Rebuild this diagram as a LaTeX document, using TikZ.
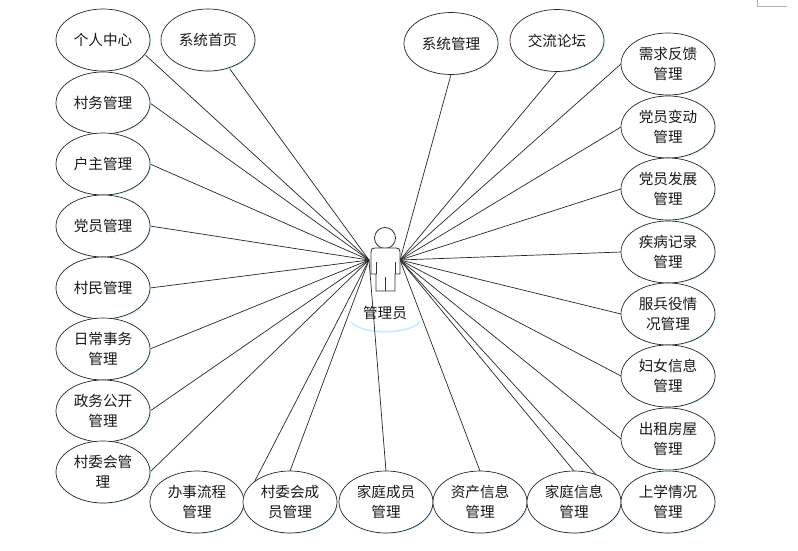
\documentclass[tikz,border=0pt]{standalone}
\usepackage{fontspec}
\setmainfont{Noto Sans CJK SC}
\usetikzlibrary{shapes.geometric,backgrounds,shadows}
\tikzset{
  uc/.style={ellipse,draw=black!85,line width=0.7pt,fill=white,minimum width=94pt,minimum height=62pt,inner sep=0pt,outer sep=0pt,align=center,font=\fontsize{14.6}{20}\selectfont,text=black!90,drop shadow={shadow xshift=0.9pt,shadow yshift=-0.9pt,fill=blue!30!cyan!18!white,opacity=1}},
  link/.style={draw=black!85,line width=0.7pt},
  actorline/.style={draw=black!80,line width=0.8pt,line join=round}
}
\begin{document}
\begin{tikzpicture}[x=1pt,y=-1pt]
\useasboundingbox (0,0) rectangle (798,551);
\draw[black!30,line width=0.7pt] (757,0) -- (757,6) -- (787,6);
% left
\node[uc] (grzx) at (103,40) {个人中心};
\node[uc] (xtsy) at (208,40) {系统首页};
\node[uc] (cwgl) at (103,103) {村务管理};
\node[uc] (hzgl) at (103,164) {户主管理};
\node[uc] (dygl) at (103,226) {党员管理};
\node[uc] (cmgl) at (103,288) {村民管理};
\node[uc] (rcsw) at (103,349) {日常事务\\管理};
\node[uc] (zwgk) at (103,411) {政务公开\\管理};
\node[uc] (cwh) at (103,472) {村委会管\\理};
% bottom
\node[uc] (bslc) at (197,502) {办事流程\\管理};
\node[uc] (cwcy) at (290,502) {村委会成\\员管理};
\node[uc] (jtcy) at (386,502) {家庭成员\\管理};
\node[uc] (zcxx) at (480,502) {资产信息\\管理};
\node[uc] (jtxx) at (574,502) {家庭信息\\管理};
\node[uc] (sxqk) at (668,502) {上学情况\\管理};
% top
\node[uc] (xtgl) at (451,43.5) {系统管理};
\node[uc] (jllt) at (557,40.5) {交流论坛};
% right
\node[uc] (xqfk) at (668,64) {需求反馈\\管理};
\node[uc] (dybd) at (668,127) {党员变动\\管理};
\node[uc] (dyfz) at (668,189) {党员发展\\管理};
\node[uc] (jbjl) at (668,252) {疾病记录\\管理};
\node[uc] (fby) at (668,314) {服兵役情\\况管理};
\node[uc] (fnxx) at (668,376) {妇女信息\\管理};
\node[uc] (czfw) at (668,439) {出租房屋\\管理};
% actor
\coordinate (al) at (369,260);
\coordinate (ar) at (400,260);
\node[inner sep=0pt,font=\fontsize{14.6}{18}\selectfont,text=black!90] (admin) at (385,313) {管理员};
\begin{scope}[on background layer]
  \draw[blue!30!cyan!22!white,line width=1.8pt] (351,322) .. controls (362,335) and (408,335) .. (420,322);
  \draw[link] (al) -- (grzx.341);
  \draw[link] (al) -- (xtsy.307);
  \foreach \n in {cwgl,hzgl,dygl,cmgl,rcsw,zwgk,cwh,bslc}
    \draw[link] (al) -- (\n.east);
  \foreach \n in {cwcy,jtcy}
    \draw[link] (al) -- (\n.north);
  \foreach \n in {xtgl,jllt}
    \draw[link] (ar) -- (\n.south);
  \foreach \n in {xqfk,dybd,dyfz,jbjl,fby,fnxx,czfw,sxqk}
    \draw[link] (ar) -- (\n.west);
  \foreach \n in {zcxx,jtxx}
    \draw[link] (ar) -- (\n.north);
\end{scope}
\draw[actorline,fill=white] (385,238) circle (10.5);
\draw[actorline,fill=white] (376,274) -- (371,274) -- (371,252) .. controls (371,249) and (372,248) .. (375,248) -- (396,248) .. controls (399,248) and (400,249) .. (400,252) -- (400,274) -- (395,274) -- (395,291) -- (376,291) -- cycle;
\draw[actorline] (376,262) -- (376,274) (395,262) -- (395,274) (385.5,277) -- (385.5,291);
\end{tikzpicture}
\end{document}
